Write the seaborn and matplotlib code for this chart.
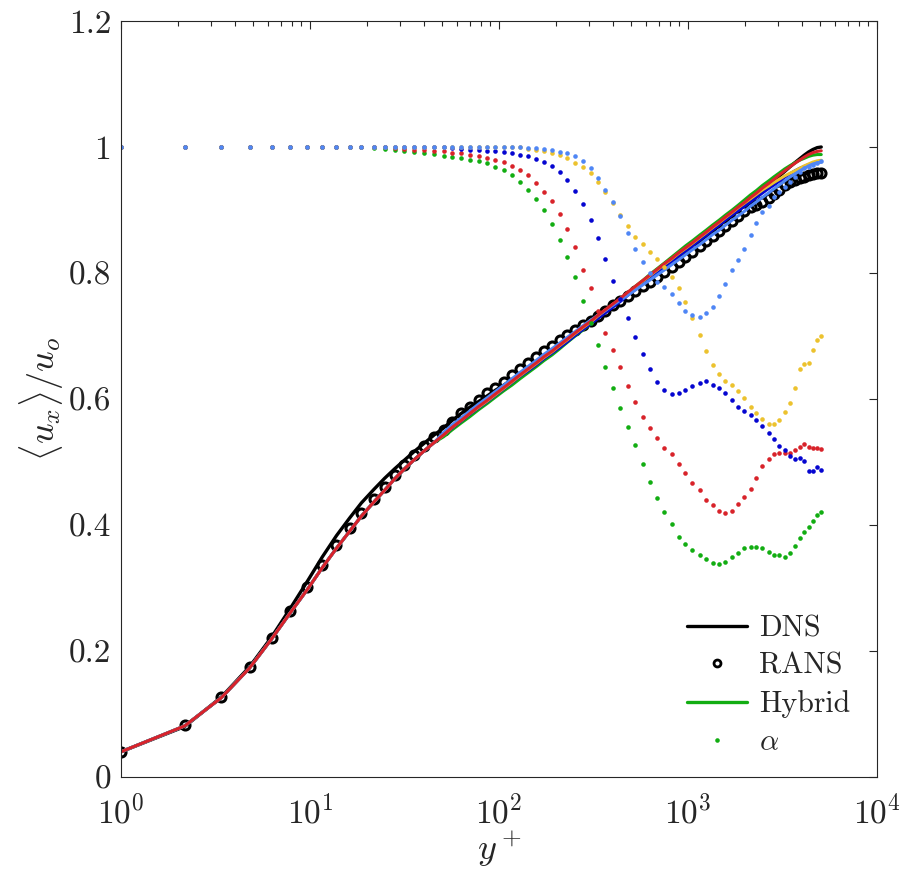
import matplotlib
matplotlib.use("Agg")
import matplotlib.pyplot as plt
from matplotlib.lines import Line2D
import seaborn as sns

# wall-normal grid (y+) shared by all the solver output
yplus = [1.0, 2.17, 3.40, 4.79, 6.26, 7.88, 9.70, 11.6, 13.8, 16.2,
         18.7, 21.7, 24.8, 28.0, 31.6, 35.7, 40.3, 45.4, 50.9, 56.5,
         63.1, 70.1, 78.0, 86.7, 95.8, 106, 117, 129, 143, 157,
         173, 191, 210, 230, 253, 277, 305, 334, 366, 401,
         439, 482, 527, 576, 630, 688, 751, 818, 891, 970,
         1054, 1151, 1248, 1348, 1463, 1579, 1713, 1849, 1990, 2142,
         2303, 2477, 2667, 2858, 3048, 3241, 3445, 3673, 3890, 4119,
         4342, 4575, 4827, 5070]

dns = [0.040, 0.080, 0.127, 0.175, 0.222, 0.268, 0.311, 0.349, 0.383, 0.411,
       0.435, 0.456, 0.474, 0.489, 0.503, 0.517, 0.530, 0.543, 0.554, 0.566,
       0.577, 0.587, 0.596, 0.605, 0.614, 0.622,
       0.631, 0.639, 0.648, 0.657, 0.666, 0.675, 0.685, 0.694, 0.703, 0.712,
       0.721, 0.731, 0.740, 0.749, 0.758, 0.768, 0.777, 0.786, 0.795, 0.804,
       0.813, 0.821, 0.830, 0.838, 0.846, 0.855, 0.863, 0.871, 0.879, 0.887,
       0.895, 0.903, 0.910, 0.918, 0.925, 0.933, 0.940, 0.947, 0.954, 0.961,
       0.968, 0.975, 0.981, 0.987, 0.992, 0.996, 0.999, 1.000]

rans = [0.040, 0.082, 0.127, 0.174, 0.221, 0.264, 0.301, 0.336, 0.368, 0.395,
        0.419, 0.442, 0.461, 0.479, 0.496, 0.511, 0.526, 0.539, 0.551, 0.564,
        0.577, 0.588, 0.599, 0.609, 0.618, 0.627, 0.638, 0.647, 0.657, 0.667,
        0.676, 0.684, 0.693, 0.701, 0.709, 0.717, 0.724, 0.732, 0.740, 0.749,
        0.756, 0.763, 0.771, 0.779, 0.786, 0.794, 0.801, 0.810, 0.818, 0.826,
        0.834, 0.843, 0.851, 0.859, 0.867, 0.875, 0.883, 0.891, 0.899, 0.904,
        0.908, 0.913, 0.919, 0.925, 0.932, 0.939, 0.944, 0.948, 0.951, 0.953,
        0.955, 0.957, 0.958, 0.959]

# hybrid runs coincide near the wall (first 18 points)
hyb_wall = [0.040, 0.081, 0.126, 0.173, 0.219, 0.261, 0.298, 0.332, 0.363,
            0.390, 0.414, 0.436, 0.455, 0.473, 0.489, 0.504, 0.518, 0.531]

hyb_green = [0.540, 0.551, 0.562, 0.572, 0.583, 0.593, 0.603, 0.613,
             0.622, 0.632, 0.642, 0.651, 0.661, 0.670, 0.680, 0.690, 0.700, 0.709,
             0.719, 0.729, 0.739, 0.749, 0.759, 0.769, 0.779, 0.788, 0.798, 0.807,
             0.816, 0.825, 0.834, 0.843, 0.851, 0.860, 0.868, 0.876, 0.884, 0.892,
             0.900, 0.908, 0.916, 0.924, 0.931, 0.939, 0.946, 0.953, 0.959, 0.965,
             0.970, 0.975, 0.979, 0.982, 0.985, 0.987, 0.988, 0.988]
hyb_red = [0.543, 0.555, 0.566, 0.577, 0.588, 0.598, 0.608, 0.618,
           0.628, 0.638, 0.648, 0.657, 0.667, 0.676, 0.686, 0.695, 0.705, 0.714,
           0.723, 0.733, 0.742, 0.751, 0.760, 0.770, 0.779, 0.788, 0.797, 0.806,
           0.815, 0.823, 0.832, 0.840, 0.848, 0.857, 0.865, 0.873, 0.881, 0.889,
           0.897, 0.905, 0.912, 0.920, 0.927, 0.935, 0.942, 0.949, 0.956, 0.962,
           0.968, 0.974, 0.979, 0.984, 0.988, 0.991, 0.993, 0.994]
hyb_blue = [0.543, 0.554, 0.565, 0.576, 0.586, 0.596, 0.606, 0.616,
            0.626, 0.636, 0.645, 0.654, 0.664, 0.673, 0.682, 0.691, 0.701, 0.710,
            0.719, 0.728, 0.737, 0.746, 0.755, 0.765, 0.774, 0.783, 0.792, 0.801,
            0.810, 0.818, 0.827, 0.835, 0.843, 0.852, 0.860, 0.868, 0.876, 0.884,
            0.892, 0.899, 0.906, 0.913, 0.920, 0.927, 0.934, 0.940, 0.946, 0.952,
            0.957, 0.962, 0.966, 0.969, 0.972, 0.974, 0.976, 0.977]
hyb_yellow = [0.543, 0.555, 0.566, 0.577, 0.587, 0.597, 0.607, 0.617,
              0.627, 0.637, 0.647, 0.656, 0.666, 0.675, 0.685, 0.694, 0.704, 0.713,
              0.722, 0.732, 0.741, 0.750, 0.759, 0.769, 0.778, 0.787, 0.796, 0.805,
              0.814, 0.822, 0.831, 0.839, 0.847, 0.856, 0.864, 0.872, 0.880, 0.888,
              0.896, 0.904, 0.911, 0.918, 0.925, 0.932, 0.938, 0.944, 0.949, 0.954,
              0.958, 0.962, 0.966, 0.970, 0.973, 0.976, 0.978, 0.979]
hyb_lblue = [0.547, 0.559, 0.570, 0.581, 0.592, 0.602, 0.612, 0.622,
             0.632, 0.642, 0.652, 0.661, 0.671, 0.680, 0.689, 0.698, 0.707, 0.716,
             0.725, 0.733, 0.741, 0.749, 0.757, 0.765, 0.773, 0.781, 0.789, 0.797,
             0.805, 0.813, 0.821, 0.829, 0.837, 0.845, 0.853, 0.861, 0.868, 0.876,
             0.884, 0.891, 0.898, 0.906, 0.913, 0.920, 0.927, 0.934, 0.940, 0.946,
             0.952, 0.957, 0.962, 0.966, 0.970, 0.973, 0.975, 0.976]

# blending function alpha for each hybrid run
alpha_green = [1.0] * 11 + [
    0.998, 0.997, 0.995, 0.994, 0.992, 0.990, 0.989, 0.986, 0.984, 0.982,
    0.980, 0.978, 0.974, 0.968, 0.963, 0.955, 0.944, 0.932, 0.917, 0.900,
    0.878, 0.852, 0.825, 0.793, 0.756, 0.720, 0.685, 0.651, 0.618, 0.585,
    0.555, 0.527, 0.497, 0.468, 0.443, 0.421, 0.402, 0.381, 0.370, 0.361,
    0.352, 0.346, 0.340, 0.338, 0.342, 0.349, 0.356, 0.364, 0.365, 0.365,
    0.363, 0.357, 0.352, 0.352, 0.350, 0.356, 0.366, 0.379, 0.389, 0.397,
    0.407, 0.416, 0.420]
alpha_red = [1.0] * 13 + [
    0.999, 0.997, 0.996, 0.995, 0.994, 0.993, 0.991, 0.990, 0.988, 0.986,
    0.983, 0.980, 0.976, 0.970, 0.964, 0.955, 0.943, 0.929, 0.914, 0.894,
    0.870, 0.841, 0.805, 0.776, 0.740, 0.705, 0.677, 0.651, 0.621, 0.596,
    0.571, 0.554, 0.538, 0.522, 0.513, 0.497, 0.482, 0.467, 0.455, 0.440,
    0.431, 0.423, 0.419, 0.423, 0.433, 0.445, 0.457, 0.475, 0.493, 0.505,
    0.512, 0.515, 0.515, 0.515, 0.519, 0.524, 0.528, 0.524, 0.523, 0.523,
    0.521]
alpha_blue = [1.0] * 19 + [
    0.998, 0.997, 0.996, 0.995, 0.994, 0.993, 0.992, 0.990, 0.988, 0.985,
    0.981, 0.976, 0.970, 0.960, 0.947, 0.930, 0.910, 0.884, 0.855, 0.822,
    0.788, 0.758, 0.728, 0.698, 0.672, 0.647, 0.627, 0.614, 0.608, 0.610,
    0.614, 0.621, 0.626, 0.628, 0.623, 0.617, 0.609, 0.599, 0.588, 0.581,
    0.574, 0.566, 0.557, 0.546, 0.537, 0.526, 0.519, 0.509, 0.505, 0.506,
    0.501, 0.486, 0.486, 0.492, 0.488]
alpha_yellow = [1.0] * 28 + [
    0.997, 0.995, 0.993, 0.991, 0.987, 0.982, 0.975, 0.968, 0.958, 0.944,
    0.929, 0.911, 0.892, 0.874, 0.857, 0.846, 0.834, 0.822, 0.810, 0.794,
    0.776, 0.754, 0.729, 0.702, 0.676, 0.654, 0.639, 0.629, 0.623, 0.612,
    0.602, 0.588, 0.577, 0.568, 0.560, 0.561, 0.566, 0.580, 0.594, 0.617,
    0.647, 0.656, 0.657, 0.677, 0.694, 0.700]
alpha_lblue = [1.0] * 28 + [
    0.999, 0.998, 0.997, 0.995, 0.992, 0.990, 0.986, 0.978, 0.967, 0.951,
    0.932, 0.912, 0.890, 0.864, 0.838, 0.818, 0.800, 0.786, 0.777, 0.767,
    0.753, 0.739, 0.733, 0.730, 0.736, 0.746, 0.764, 0.783, 0.804, 0.820,
    0.838, 0.861, 0.880, 0.897, 0.907, 0.921, 0.929, 0.937, 0.944, 0.952,
    0.960, 0.966, 0.969, 0.972, 0.975, 0.978]

yticks = [0, 0.2, 0.4, 0.6, 0.8, 1.0, 1.2]
ytick_labels = ['0', '0.2', '0.4', '0.6', '0.8', '1', '1.2']

green = '#12ad12'
red = '#d8232a'
blue = '#0505d0'
yellow = '#ecc22e'
lblue = '#4f86f5'

sns.set_style('white')
plt.rcParams['font.family'] = ['cmr10']
plt.rcParams['mathtext.fontset'] = 'cm'
plt.rcParams['axes.formatter.use_mathtext'] = True

fig = plt.figure(figsize=(9.16, 8.75), dpi=100)
ax = fig.add_axes([121 / 916, 1 - 777 / 875, 756 / 916, 756 / 875])

# DNS and RANS reference
sns.lineplot(x=yplus, y=dns, color='k', lw=2.4, sort=False, estimator=None, ax=ax)
sns.lineplot(x=yplus, y=rans, ax=ax, sort=False, estimator=None, linestyle='',
             marker='o', markersize=6.5, markerfacecolor='none',
             markeredgecolor='k', markeredgewidth=2.2)

# hybrid runs (red drawn last, it sits on top near the wall)
hybrids = [(hyb_green, green), (hyb_blue, blue), (hyb_yellow, yellow),
           (hyb_lblue, lblue), (hyb_red, red)]
for vals, c in hybrids:
    sns.lineplot(x=yplus, y=hyb_wall + vals, color=c, lw=2.2, sort=False,
                 estimator=None, ax=ax)

# alpha
alphas = [(alpha_green, green), (alpha_red, red), (alpha_blue, blue),
          (alpha_yellow, yellow), (alpha_lblue, lblue)]
for vals, c in alphas:
    sns.lineplot(x=yplus, y=vals, ax=ax, sort=False, estimator=None,
                 linestyle='', marker='o', markersize=3.3, color=c,
                 markerfacecolor=c, markeredgewidth=0)

ax.set_xscale('log')
ax.set_xlim(1, 1e4)
ax.set_ylim(0, 1.2)
ax.set_yticks(yticks)
ax.set_yticklabels(ytick_labels)
ax.set_xlabel(r'$y^+$', fontsize=26, labelpad=0)
ax.set_ylabel(r'$\langle u_x \rangle / u_o$', fontsize=26, labelpad=2)

ax.tick_params(which='both', direction='in', top=True, right=True,
               color='#262626', width=0.8)
ax.tick_params(which='major', length=6, labelsize=24)
ax.tick_params(axis='y', which='major', pad=7)
ax.tick_params(axis='x', which='major', pad=12)
ax.tick_params(which='minor', length=3.5)
for s in ax.spines.values():
    s.set_color('#262626')
    s.set_linewidth(0.8)

handles = [Line2D([], [], color='k', lw=2.4),
           Line2D([], [], ls='', marker='o', ms=5, mfc='none', mec='k', mew=2.0),
           Line2D([], [], color=green, lw=2.4),
           Line2D([], [], ls='', marker='o', ms=3.3, color=green, mew=0)]
ax.legend(handles, ['DNS', 'RANS', 'Hybrid', r'$\alpha$'], loc='lower right',
          frameon=False, fontsize=21.5, handlelength=2.0, handletextpad=0.4,
          labelspacing=0.35, bbox_to_anchor=(1.0, -0.008))

fig.savefig('out.png', dpi=100)
